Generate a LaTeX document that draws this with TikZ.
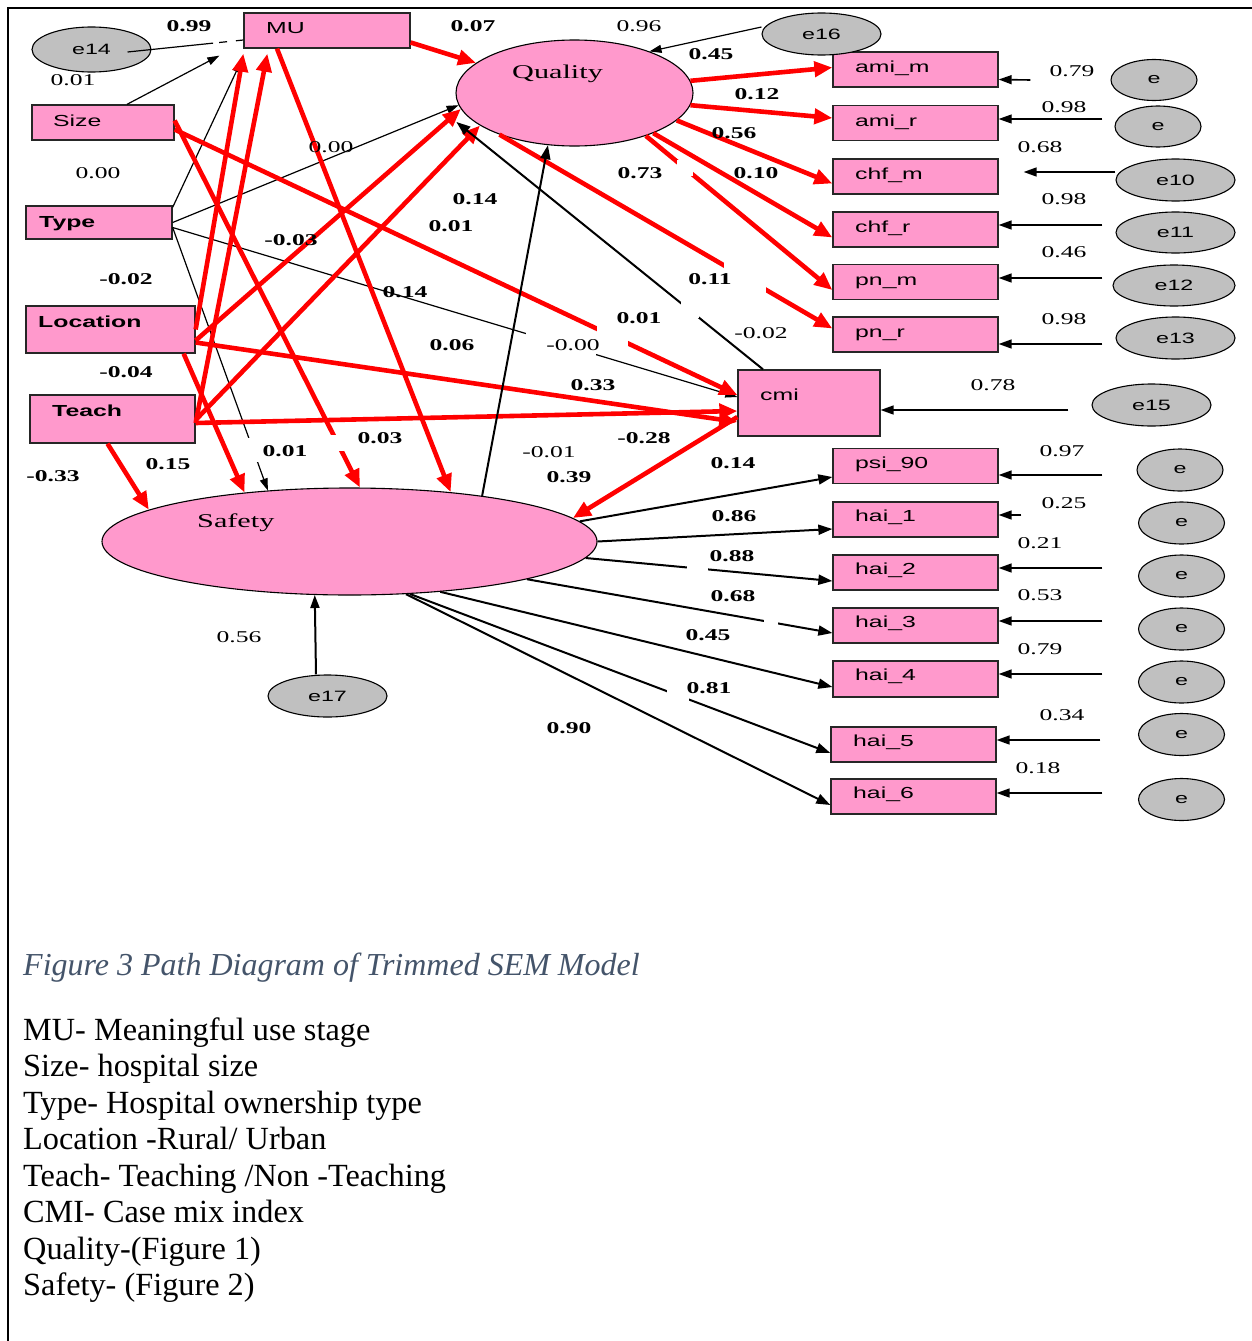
\documentclass[tikz,border=0pt]{standalone}
\usepackage{fontspec}
\setmainfont{Liberation Serif}
\setsansfont{Liberation Sans}
\usepackage{graphicx}
\usetikzlibrary{arrows.meta,shapes.geometric}
\definecolor{boxpink}{RGB}{255,153,204}
\definecolor{egray}{RGB}{192,192,192}
\definecolor{capblue}{RGB}{68,84,106}
\definecolor{pathred}{RGB}{255,0,0}
\newcommand{\sx}[1]{\scalebox{1.55}[1]{#1}}
\newcommand{\lb}[4]{\node[#1] (#2) at (#3) {\sx{#4}};}
\begin{document}
\begin{tikzpicture}[x=1pt,y=-1pt,
  box/.style={draw=black!85, fill=boxpink, line width=1.3pt, inner sep=0pt, rectangle},
  rbox/.style={box, minimum width=165pt, minimum height=35pt},
  ell/.style={draw=black, fill=boxpink, line width=1.1pt, ellipse, inner sep=0pt},
  eov/.style={draw=black, fill=egray, line width=1.1pt, ellipse, inner sep=0pt, minimum width=86pt, minimum height=41pt, font=\fontsize{15}{15}\sffamily},
  eovw/.style={eov, minimum width=119pt, minimum height=42pt},
  btxt/.style={anchor=base west, inner sep=0pt, font=\fontsize{16}{16}\sffamily},
  btxtb/.style={btxt, font=\fontsize{16}{16}\sffamily\bfseries},
  ltxt/.style={anchor=base west, inner sep=0pt, font=\fontsize{19.5}{19.5}\selectfont},
  numb/.style={inner sep=0pt, font=\fontsize{16.5}{16.5}\selectfont\bfseries},
  numr/.style={inner sep=0pt, font=\fontsize{16.5}{16.5}\selectfont},
  rarr/.style={draw=pathred, line width=4.6pt, -{Triangle[length=18pt,width=15pt]}},
  barr/.style={draw=black, line width=2pt, -{Triangle[length=14pt,width=10pt]}},
  tarr/.style={draw=black, line width=1.2pt, -{Triangle[length=12pt,width=8pt]}},
  resarr/.style={draw=black, line width=1.6pt, -{Triangle[length=13pt,width=9pt]}},
  legend/.style={anchor=base west, inner sep=0pt, font=\fontsize{32.3}{32.3}\selectfont}
]
\useasboundingbox (0,0) rectangle (1252,1341);
\fill[white] (0,0) rectangle (1252,1341);
\draw[line width=2pt] (8,1341) -- (8,8) -- (1252,8);

% ---------- boxes ----------
\node[box, minimum width=166pt, minimum height=35pt] (mu) at (327,30.5) {};
\node[box, minimum width=142pt, minimum height=35pt] (size) at (103,122.5) {};
\node[box, minimum width=146pt, minimum height=33pt] (type) at (99,222.5) {};
\node[box, minimum width=169pt, minimum height=47pt] (location) at (110.5,329.5) {};
\node[box, minimum width=165pt, minimum height=48pt] (teach) at (112.5,419) {};
\node[box, minimum width=142pt, minimum height=66pt] (cmi) at (809,403) {};
\node[rbox] (amim) at (915.5,69.5) {};
\node[rbox] (amir) at (915.5,123) {};
\node[rbox] (chfm) at (915.5,176.5) {};
\node[rbox] (chfr) at (915.5,229.5) {};
\node[rbox] (pnm) at (915.5,282) {};
\node[rbox] (pnr) at (915.5,334.5) {};
\node[rbox] (psi) at (915.5,466) {};
\node[rbox] (hai1) at (915.5,519.5) {};
\node[rbox] (hai2) at (915.5,572.5) {};
\node[rbox] (hai3) at (915.5,625.5) {};
\node[rbox, minimum height=36pt] (hai4) at (915.5,679) {};
\node[rbox] (hai5) at (913.5,744.5) {};
\node[rbox] (hai6) at (913.5,796.5) {};

\node[btxt] (mutxt) at (266,33.5) {\sx{MU}};
\node[btxt] (sizetxt) at (53,126) {\sx{Size}};
\node[btxtb] (typetxt) at (39,227) {\sx{Type}};
\node[btxtb] (loctxt) at (38,327) {\sx{Location}};
\node[btxtb] (teachtxt) at (52,416.5) {\sx{Teach}};
\node[btxt] (cmitxt) at (760,400.5) {\sx{cmi}};
\node[btxt] (amimtxt) at (855,72) {\sx{ami\_m}};
\node[btxt] (amirtxt) at (855,126) {\sx{ami\_r}};
\node[btxt] (chfmtxt) at (855,179) {\sx{chf\_m}};
\node[btxt] (chfrtxt) at (855,232) {\sx{chf\_r}};
\node[btxt] (pnmtxt) at (855,285) {\sx{pn\_m}};
\node[btxt] (pnrtxt) at (855,337) {\sx{pn\_r}};
\node[btxt] (psitxt) at (855,468.5) {\sx{psi\_90}};
\node[btxt] (hai1txt) at (855,521.5) {\sx{hai\_1}};
\node[btxt] (hai2txt) at (855,574.5) {\sx{hai\_2}};
\node[btxt] (hai3txt) at (855,627.5) {\sx{hai\_3}};
\node[btxt] (hai4txt) at (855,680.5) {\sx{hai\_4}};
\node[btxt] (hai5txt) at (853,746.5) {\sx{hai\_5}};
\node[btxt] (hai6txt) at (853,798.5) {\sx{hai\_6}};

% ---------- ellipses ----------
\node[ell, minimum width=237pt, minimum height=106pt] (quality) at (574.5,93) {};
\node[ell, minimum width=495pt, minimum height=107pt] (safety) at (349.5,541.5) {};
\node[ltxt] (qualtxt) at (512,78) {\sx{Quality}};
\node[ltxt] (saftxt) at (197,527) {\sx{Safety}};

\node[eovw, minimum height=45pt] (e14) at (91.5,49.5) {\sx{e14}};
\node[eovw] (e16) at (821.5,34) {\sx{e16}};
\node[eov] (er1) at (1154,80) {\sx{e}};
\node[eov] (er2) at (1158,126.5) {\sx{e}};
\node[eovw] (e10) at (1175.5,180) {\sx{e10}};
\node[eovw, minimum height=41pt] (e11) at (1175.5,232.5) {\sx{e11}};
\node[eovw, minimum width=122pt, minimum height=41pt] (e12) at (1174,285.5) {\sx{e12}};
\node[eovw] (e13) at (1175.5,338) {\sx{e13}};
\node[eovw] (e15) at (1151.5,405) {\sx{e15}};
\node[eov, minimum height=42pt] (eps) at (1180,470) {\sx{e}};
\node[eov, minimum height=42pt] (eh1) at (1181.5,523) {\sx{e}};
\node[eov, minimum height=42pt] (eh2) at (1181.5,576) {\sx{e}};
\node[eov, minimum height=42pt] (eh3) at (1181.5,629) {\sx{e}};
\node[eov, minimum height=42pt] (eh4) at (1181.5,682) {\sx{e}};
\node[eov, minimum height=42pt] (eh5) at (1181.5,734.5) {\sx{e}};
\node[eov, minimum height=42pt] (eh6) at (1181.5,799.5) {\sx{e}};
\node[eovw] (e17) at (327.5,696) {\sx{e17}};

% ---------- thin black paths ----------
\draw[draw=black, line width=1.2pt, dash pattern=on 86pt off 6pt on 8pt off 9pt on 8pt off 100pt] ([xshift=-24pt,yshift=-2.5pt]e14.east) -- ([yshift=-9.5pt]mu.west);
\draw[tarr] ([xshift=24pt]size.north) -- ([xshift=-24pt,yshift=-7pt]mu.south west);
\draw[tarr] ([yshift=-2pt]type.north east) -- ([xshift=-2pt,yshift=-12pt]mu.south west);
\draw[tarr] (type.east) -- (quality.186);
\draw[tarr] ([yshift=-5pt]type.east) -- ([yshift=6pt]cmi.west);
\draw[tarr] ([yshift=-5pt]type.east) -- (safety.148.2);
\draw[tarr] ([yshift=7pt]e16.west) -- (quality.29.5);

% ---------- red paths ----------
\draw[rarr] ([yshift=-12pt]mu.east) -- (quality.163.5);
\draw[rarr] ([xshift=-50pt]mu.south) -- (safety.26);
\draw[rarr] ([yshift=2pt]size.east) -- (safety.79);
\draw[rarr] ([yshift=-7pt]size.east) -- ([yshift=8pt]cmi.west);
\draw[rarr] (location.east) -- ([yshift=-5pt]mu.south west);
\draw[rarr] ([yshift=-11pt]location.east) -- (quality.188);
\draw[rarr] ([yshift=-13pt]location.east) -- ([yshift=-19pt]cmi.west);
\draw[rarr] ([xshift=-12pt]location.south east) -- (safety.155);
\draw[rarr] ([yshift=-4pt]teach.east) -- ([xshift=24pt,yshift=-5pt]mu.south west);
\draw[rarr] ([yshift=-1pt]teach.east) -- (quality.199.5);
\draw[rarr] ([yshift=-4pt]teach.east) -- ([yshift=-8pt]cmi.west);
\draw[rarr] ([xshift=-5pt]teach.south) -- (safety.171);
\draw[rarr] ([yshift=-14pt]cmi.west) -- (safety.6);
\draw[rarr] (quality.6.7) -- ([yshift=2pt]amim.west);
\draw[rarr] (quality.354.2) -- ([yshift=5pt]amir.west);
\draw[rarr] (quality.345.6) -- ([yshift=-7pt]chfm.west);
\draw[rarr] (quality.333) -- ([yshift=-8pt]chfr.west);
\draw[rarr] (quality.329) -- ([yshift=-8pt]pnm.west);
\draw[rarr] (quality.209.3) -- ([yshift=6pt]pnr.west);

% ---------- black structural paths ----------
\draw[barr] (safety.19) -- (quality.243.9);
\draw[barr] ([xshift=-46pt]cmi.north) -- ([xshift=-14pt,yshift=-3pt]quality.194.1);
\draw[barr] (safety.5.5) -- ([yshift=-11pt]psi.west);
\draw[barr] (safety.0) -- ([yshift=-9.5pt]hai1.west);
\draw[barr] (safety.356.8) -- ([yshift=-8.5pt]hai2.west);
\draw[barr] (safety.348.1) -- ([yshift=-7.5pt]hai3.west);
\draw[barr] (safety.331.1) -- ([yshift=-8pt]hai4.west);
\draw[barr] (safety.319.3) -- ([yshift=-8.5pt]hai5.west);
\draw[barr] (safety.317.6) -- ([yshift=-8.5pt]hai6.west);

% ---------- residual paths ----------
\draw[resarr] ([xshift=-80pt]er1.west) -- ([yshift=-10pt]amim.east);
\draw[resarr, line width=1.1pt] ([xshift=-12pt,yshift=7.5pt]er2.west) -- ([yshift=4pt]amir.east);
\draw[resarr] ([yshift=8pt]e10.west) -- ([xshift=25pt,yshift=4.5pt]chfm.east);
\draw[resarr] ([xshift=-13pt,yshift=7.5pt]e11.west) -- ([yshift=4.5pt]chfr.east);
\draw[resarr] ([xshift=-10pt,yshift=7.5pt]e12.west) -- ([yshift=4pt]pnm.east);
\draw[resarr] ([xshift=-13pt,yshift=-6pt]e13.west) -- ([yshift=-9.5pt]pnr.east);
\draw[resarr] ([xshift=-23pt,yshift=-5pt]e15.west) -- ([yshift=-7pt]cmi.east);
\draw[resarr] ([xshift=-34pt,yshift=-5pt]eps.west) -- ([yshift=-9pt]psi.east);
\draw[resarr] ([xshift=-116.5pt,yshift=8pt]eh1.west) -- ([yshift=4.5pt]hai1.east);
\draw[resarr] ([xshift=-35.5pt,yshift=8pt]eh2.west) -- ([yshift=4.5pt]hai2.east);
\draw[resarr] ([xshift=-35.5pt,yshift=8pt]eh3.west) -- ([yshift=4.5pt]hai3.east);
\draw[resarr] ([xshift=-35.5pt,yshift=8pt]eh4.west) -- ([yshift=5pt]hai4.east);
\draw[resarr] ([xshift=-37.5pt,yshift=-5.5pt]eh5.west) -- ([yshift=4.5pt]hai5.east);
\draw[resarr] ([xshift=-35.5pt,yshift=6.5pt]eh6.west) -- ([yshift=3.5pt]hai6.east);
\draw[resarr, line width=2pt] ([xshift=-11.5pt]e17.north) -- (safety.237.7);

% ---------- label backgrounds (gaps) ----------
\fill[white] (526,331) rectangle (596,358);
\fill[white] (597,323) rectangle (628,348);
\fill[white] (681,301) rectangle (699,318);
\fill[white] (724,262) rectangle (766,294);
\fill[white] (677,160) rectangle (693,176);
\fill[white] (687,563) rectangle (708,575);
\fill[white] (764,616) rectangle (778,629);
\fill[white] (667,688) rectangle (689,706);
\fill[white] (247,438) rectangle (262,462);
\fill[white] (330,435) rectangle (347,451);

% ---------- labels ----------
\lb{numb}{l01}{189,26}{0.99}
\lb{numr}{l02}{73,80}{0.01}
\lb{numb}{l03}{473,26}{0.07}
\lb{numr}{l04}{639,26}{0.96}
\lb{numb}{l05}{711,54}{0.45}
\lb{numb}{l06}{757,94}{0.12}
\lb{numb}{l07}{734,133}{0.56}
\lb{numr}{l08}{98,173}{0.00}
\lb{numr}{l09}{331,147}{0.00}
\lb{numb}{l10}{640,173}{0.73}
\lb{numb}{l11}{756,173}{0.10}
\lb{numb}{l12}{475,199}{0.14}
\lb{numb}{l13}{451,226}{0.01}
\lb{numb}{l14}{291,240}{-0.03}
\lb{numb}{l15}{126,279}{-0.02}
\lb{numb}{l16}{710,279}{0.11}
\lb{numb}{l17}{405,292}{0.14}
\lb{numb}{l18}{639,318}{0.01}
\lb{numr}{l19}{761,333}{-0.02}
\lb{numb}{l20}{452,345}{0.06}
\lb{numr}{l21}{573,345}{-0.00}
\lb{numb}{l22}{126,372}{-0.04}
\lb{numb}{l23}{593,385}{0.33}
\lb{numr}{l24}{993,385}{0.78}
\lb{numb}{l25}{380,438}{0.03}
\lb{numb}{l26}{285,451}{0.01}
\lb{numr}{l27}{549,452}{-0.01}
\lb{numb}{l28}{644,438}{-0.28}
\lb{numb}{l29}{168,464}{0.15}
\lb{numb}{l30}{53,476}{-0.33}
\lb{numb}{l31}{569,477}{0.39}
\lb{numb}{l32}{733,463}{0.14}
\lb{numb}{l33}{734,516}{0.86}
\lb{numb}{l34}{732,556}{0.88}
\lb{numb}{l35}{733,596}{0.68}
\lb{numb}{l36}{708,635}{0.45}
\lb{numb}{l37}{709,688}{0.81}
\lb{numb}{l38}{569,728}{0.90}
\lb{numr}{l39}{239,637}{0.56}
\lb{numr}{l40}{1072,71}{0.79}
\lb{numr}{l41}{1064,107}{0.98}
\lb{numr}{l42}{1040,147}{0.68}
\lb{numr}{l43}{1064,199}{0.98}
\lb{numr}{l44}{1064,252}{0.46}
\lb{numr}{l45}{1064,319}{0.98}
\lb{numr}{l46}{1062,451}{0.97}
\lb{numr}{l47}{1064,503}{0.25}
\lb{numr}{l48}{1040,543}{0.21}
\lb{numr}{l49}{1040,595}{0.53}
\lb{numr}{l50}{1040,649}{0.79}
\lb{numr}{l51}{1062,715}{0.34}
\lb{numr}{l52}{1038,768}{0.18}

% ---------- caption and legend ----------
\node[legend, text=capblue, font=\fontsize{32}{32}\selectfont\itshape] (cap) at (23,975) {Figure 3 Path Diagram of Trimmed SEM Model};
\node[legend] (lg1) at (23,1040) {MU- Meaningful use stage};
\node[legend] (lg2) at (23,1076.5) {Size- hospital size};
\node[legend] (lg3) at (23,1113) {Type- Hospital ownership type};
\node[legend] (lg4) at (23,1149.5) {Location -Rural/ Urban};
\node[legend] (lg5) at (23,1186) {Teach- Teaching /Non -Teaching};
\node[legend] (lg6) at (23,1222.5) {CMI- Case mix index};
\node[legend] (lg7) at (23,1259) {Quality-(Figure 1)};
\node[legend] (lg8) at (23,1295.5) {Safety- (Figure 2)};
\end{tikzpicture}
\end{document}
